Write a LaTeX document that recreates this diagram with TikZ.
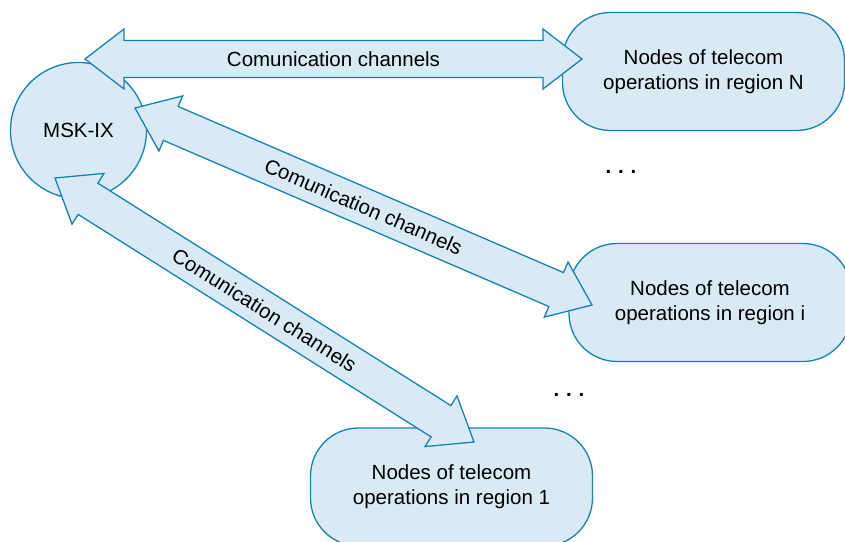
\documentclass[tikz,border=0pt]{standalone}
\usepackage{fontspec}
\setmainfont{Liberation Sans}
\usetikzlibrary{calc}
\definecolor{chfill}{RGB}{218,234,245}
\definecolor{chline}{RGB}{22,130,184}
\newcommand\chanarrow[2]{%
  \draw[chan] (#1)
    -- ($(#1)!39pt!(#2)!30pt!90:(#2)$)
    -- ($(#1)!39pt!(#2)!18.5pt!90:(#2)$)
    -- ($(#2)!39pt!(#1)!18.5pt!-90:(#1)$)
    -- ($(#2)!39pt!(#1)!30pt!-90:(#1)$)
    -- (#2)
    -- ($(#2)!39pt!(#1)!30pt!90:(#1)$)
    -- ($(#2)!39pt!(#1)!18.5pt!90:(#1)$)
    -- ($(#1)!39pt!(#2)!18.5pt!-90:(#2)$)
    -- ($(#1)!39pt!(#2)!30pt!-90:(#2)$)
    -- cycle;
  \path (#1) -- (#2) node[midway, sloped, chanlabel] {Comunication channels};
}
\begin{document}
\begin{tikzpicture}[x=1pt,y=-1pt,
  font=\fontsize{20.5}{25}\selectfont,
  shapebox/.style={draw=chline, fill=chfill, line width=1.3pt},
  region/.style={shapebox, rounded corners=48pt, minimum width=282pt, minimum height=118pt, align=center, inner sep=0pt},
  chan/.style={draw=chline, fill=chfill, line width=1.3pt, line join=miter},
  chanlabel/.style={inner sep=0pt, text=black},
  dotsnode/.style={inner sep=0pt}]
\useasboundingbox (0,0) rectangle (845,541);
% nodes
\node[shapebox, circle, minimum size=136pt, inner sep=0pt] (msk) at (78.5,130.5) {MSK-IX};
\node[region] (rN) at (703.5,71.5) {Nodes of telecom\\operations in region N};
\node[region] (ri) at (710,302.5) {Nodes of telecom\\operations in region i};
\node[region] (r1) at (451.5,487) {Nodes of telecom\\operations in region 1};
% arrow tips
\coordinate (mN) at (85,59);
\coordinate (tN) at (582,59);
\coordinate (mi) at (135,108);
\coordinate (ti) at (592,305);
\coordinate (m1) at (55,178);
\coordinate (t1) at (474,442);
% connectors
\chanarrow{mN}{tN}
\chanarrow{mi}{ti}
\chanarrow{m1}{t1}
% ellipses
\node[dotsnode] (dotsA) at (621,172) {\textbf{.\,\,.\,\,.}};
\node[dotsnode] (dotsB) at (569,395) {\textbf{.\,\,.\,\,.}};
\end{tikzpicture}
\end{document}
